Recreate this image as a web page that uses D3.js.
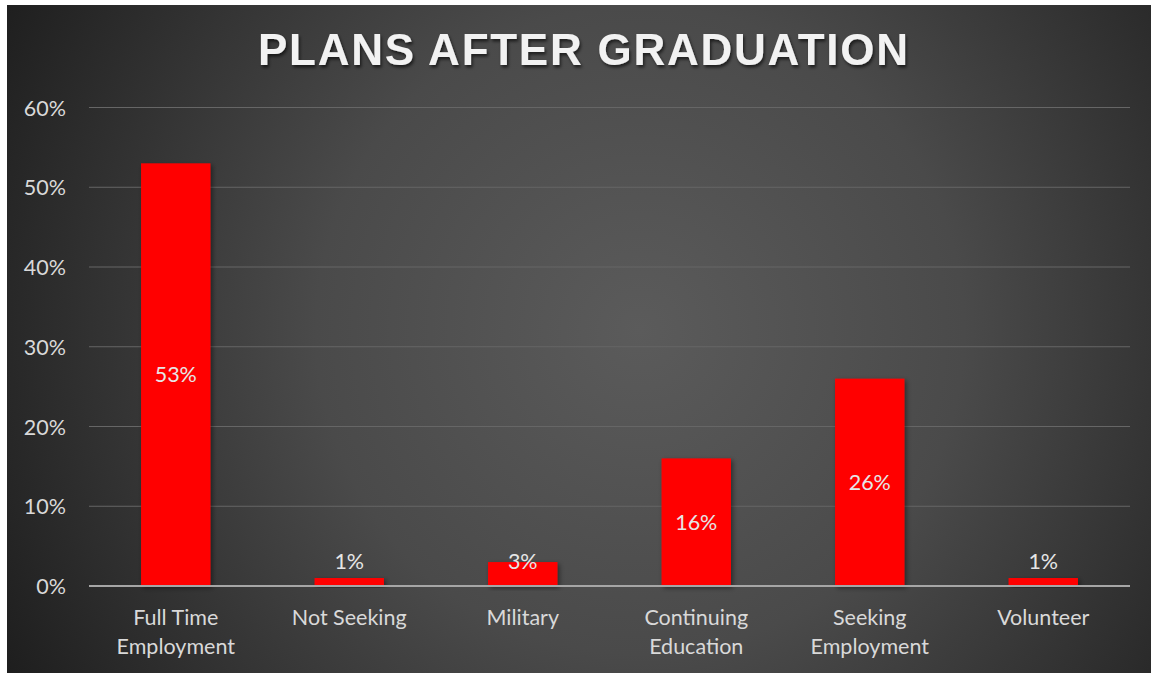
<!DOCTYPE html>
<html><head><meta charset="utf-8">
<script src="https://cdn.jsdelivr.net/npm/d3@7/dist/d3.min.js"></script>
<style>
html,body{margin:0;padding:0;background:#fff;}
svg{display:block;}
</style></head>
<body><svg id="c" width="1151" height="673"></svg>
<script>
const categories = [["Full Time","Employment"],["Not Seeking"],["Military"],["Continuing","Education"],["Seeking","Employment"],["Volunteer"]];
const values = [0.53, 0.01, 0.03, 0.16, 0.26, 0.01];
const yTicks = [0, 0.1, 0.2, 0.3, 0.4, 0.5, 0.6];
const title = "PLANS AFTER GRADUATION";

const W = 1151, H = 673;
const svg = d3.select("#c");
const defs = svg.append("defs");
const rg = defs.append("radialGradient").attr("id","bg").attr("gradientUnits","userSpaceOnUse")
  .attr("cx",640).attr("cy",330).attr("r",720);
rg.append("stop").attr("offset","0%").attr("stop-color","#5b5b5b");
rg.append("stop").attr("offset","45%").attr("stop-color","#4a4a4a");
rg.append("stop").attr("offset","100%").attr("stop-color","#1e1e1e");
const sh = defs.append("filter").attr("id","sh").attr("x","-20%").attr("y","-20%").attr("width","140%").attr("height","140%");
sh.append("feDropShadow").attr("dx",2).attr("dy",2).attr("stdDeviation",2.5).attr("flood-color","#000").attr("flood-opacity",0.45);
const tsh = defs.append("filter").attr("id","tsh").attr("x","-5%").attr("y","-20%").attr("width","110%").attr("height","150%");
tsh.append("feDropShadow").attr("dx",1.5).attr("dy",2.5).attr("stdDeviation",1.5).attr("flood-color","#000").attr("flood-opacity",0.6);

svg.append("rect").attr("x",7).attr("y",5).attr("width",W-7).attr("height",H-5).attr("fill","url(#bg)");

const x0 = 89, x1 = 1130, yTop = 107.5, yBot = 586;
const x = d3.scaleBand().domain(d3.range(categories.length)).range([x0,x1]).padding(0);
const y = d3.scaleLinear().domain([0,0.6]).range([yBot,yTop]);
const fmt = d3.format(".0%");
const FONT = "Lato, 'Open Sans', sans-serif";
const FS = "21.5px";

// gridlines
svg.append("g").selectAll("line").data(yTicks.filter(t=>t>0)).join("line")
  .attr("x1",x0).attr("x2",x1).attr("y1",d=>y(d)).attr("y2",d=>y(d))
  .attr("stroke","#666").attr("stroke-width",1.2);

// y axis
const yAxis = d3.axisLeft(y).tickValues(yTicks).tickFormat(fmt).tickSize(0).tickPadding(0);
const ya = svg.append("g").attr("transform",`translate(66,0)`).call(yAxis);
ya.select(".domain").remove();
ya.selectAll("text").attr("fill","#d9d9d9").style("font-family",FONT).style("font-size",FS).attr("dy","0.35em");

// bars
const bw = x.bandwidth()*0.4;
svg.append("g").selectAll("rect").data(values).join("rect")
  .attr("x",(d,i)=>x(i)+x.bandwidth()/2-bw/2).attr("width",bw)
  .attr("y",d=>y(d)).attr("height",d=>yBot-y(d))
  .attr("fill","#ff0000").attr("filter","url(#sh)");

// baseline
svg.append("line").attr("x1",x0).attr("x2",x1).attr("y1",yBot).attr("y2",yBot)
  .attr("stroke","#a6a6a6").attr("stroke-width",2.2);

// data labels
svg.append("g").selectAll("text").data(values).join("text")
  .attr("x",(d,i)=>x(i)+x.bandwidth()/2)
  .attr("y",d=>Math.min(y(d/2),561))
  .attr("dy","0.35em").attr("text-anchor","middle")
  .attr("fill","#e6e6e6").style("font-family",FONT).style("font-size",FS)
  .text(d=>fmt(d));

// x axis labels
const xa = d3.axisBottom(x).tickSize(0).tickFormat("");
const xg = svg.append("g").attr("transform",`translate(0,${yBot})`).call(xa);
xg.select(".domain").remove();
xg.selectAll(".tick").each(function(i){
  const t = d3.select(this).append("text").attr("text-anchor","middle")
    .attr("fill","#d9d9d9").style("font-family",FONT).style("font-size",FS);
  categories[i].forEach((ln,k)=>{
    t.append("tspan").attr("x",0).attr("y",31+k*29).attr("dy","0.35em").text(ln);
  });
});

// title
const tt = svg.append("text").attr("x",583).attr("y",50).attr("dy","0.35em").attr("text-anchor","middle")
  .attr("fill","#f2f2f2").style("font-family","'Liberation Sans', Arial, sans-serif")
  .style("font-weight","bold").style("font-size","44px").attr("filter","url(#tsh)").text(title);
const targetW = 650;
const w0 = tt.node().getComputedTextLength();
const ls = (targetW - w0)/(title.length-1);
tt.style("letter-spacing", ls+"px").attr("x", 583 + ls/2);
</script></body></html>
